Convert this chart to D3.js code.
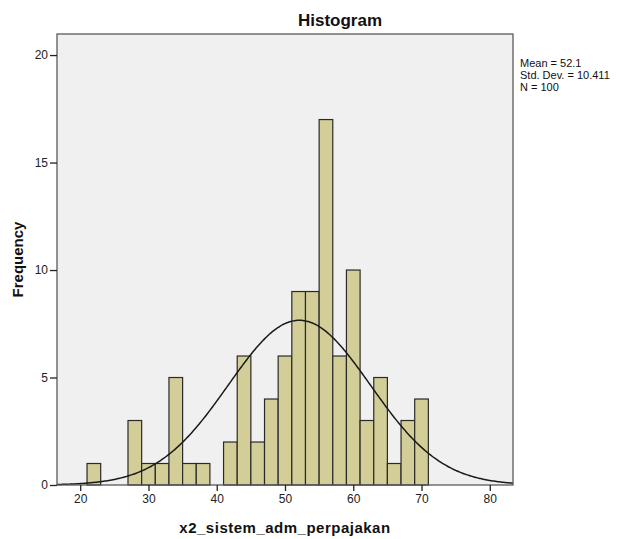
<!DOCTYPE html>
<html><head><meta charset="utf-8">
<script src="https://cdn.jsdelivr.net/npm/d3@7"></script>
<style>body{margin:0;background:#fff;} svg{display:block;font-family:"Liberation Sans",Arial,sans-serif;}</style>
</head><body>
<svg id="c" width="619" height="539"></svg>
<script>
const binStarts = [21,23,25,27,29,31,33,35,37,39,41,43,45,47,49,51,53,55,57,59,61,63,65,67,69];
const counts    = [ 1, 0, 0, 3, 1, 1, 5, 1, 1, 0, 2, 6, 2, 4, 6, 9, 9,17, 6,10, 3, 5, 1, 3, 4];
const binWidth = 2;
const xTicks = [20,30,40,50,60,70,80];
const yTicks = [0,5,10,15,20];
const stats = {mean:52.1, sd:10.411, n:100};
const statLines = ["Mean = 52.1","Std. Dev. = 10.411","N = 100"];

const svg = d3.select("#c");
const L=57, R=513, T=34, B=485;
const x = d3.scaleLinear().domain([16.6,83.4]).range([L,R]);
const y = d3.scaleLinear().domain([0,20.98]).range([B,T]);

svg.append("rect").attr("x",L).attr("y",T).attr("width",R-L).attr("height",B-T)
  .attr("fill","#f0f0f0");

const bins = binStarts.map((s,i)=>({x0:s,x1:s+binWidth,c:counts[i]})).filter(d=>d.c>0);
svg.append("g").selectAll("rect").data(bins).join("rect")
  .attr("x",d=>x(d.x0)).attr("width",d=>x(d.x1)-x(d.x0))
  .attr("y",d=>y(d.c)).attr("height",d=>y(0)-y(d.c))
  .attr("fill","#d3ce98").attr("stroke","#2a2a2a").attr("stroke-width",1.2);

// normal curve fitted with the given mean / sd / N
const pts = d3.range(16.6,83.41,0.2).map(v=>{
  const z=(v-stats.mean)/stats.sd;
  return [v, stats.n*binWidth/(stats.sd*Math.sqrt(2*Math.PI))*Math.exp(-0.5*z*z)];
});
svg.append("path").datum(pts)
  .attr("d",d3.line().x(d=>x(d[0])).y(d=>y(d[1])).curve(d3.curveBasis))
  .attr("fill","none").attr("stroke","#1a1a1a").attr("stroke-width",1.5);

svg.append("rect").attr("x",L).attr("y",T).attr("width",R-L).attr("height",B-T)
  .attr("fill","none").attr("stroke","#5a5a5a").attr("stroke-width",1.3);

const xa = svg.append("g").attr("transform",`translate(0,${B})`)
  .call(d3.axisBottom(x).tickValues(xTicks).tickSize(6).tickSizeOuter(0).tickPadding(3));
xa.select(".domain").remove();
const ya = svg.append("g").attr("transform",`translate(${L},0)`)
  .call(d3.axisLeft(y).tickValues(yTicks).tickSize(7).tickSizeOuter(0).tickPadding(2));
ya.select(".domain").remove();
svg.selectAll(".tick text").attr("font-size",12).attr("fill","#222").attr("font-family","Liberation Sans, Arial, sans-serif");
svg.selectAll(".tick line").attr("stroke","#222").attr("stroke-width",1.3);

svg.append("text").attr("x",340).attr("y",26).attr("text-anchor","middle")
  .attr("font-size",17).attr("font-weight","bold").attr("fill","#111").text("Histogram");
svg.append("text").attr("x",(L+R)/2).attr("y",533).attr("text-anchor","middle")
  .attr("font-size",15).attr("letter-spacing",0.5).attr("font-weight","bold").attr("fill","#111").text("x2_sistem_adm_perpajakan");
svg.append("text").attr("transform",`translate(23,${(T+B)/2}) rotate(-90)`).attr("text-anchor","middle")
  .attr("font-size",15).attr("font-weight","bold").attr("fill","#111").text("Frequency");

svg.append("g").selectAll("text").data(statLines).join("text")
  .attr("x",520).attr("y",(d,i)=>67+i*12).attr("font-size",11).attr("fill","#111").text(d=>d);
</script>
</body></html>
